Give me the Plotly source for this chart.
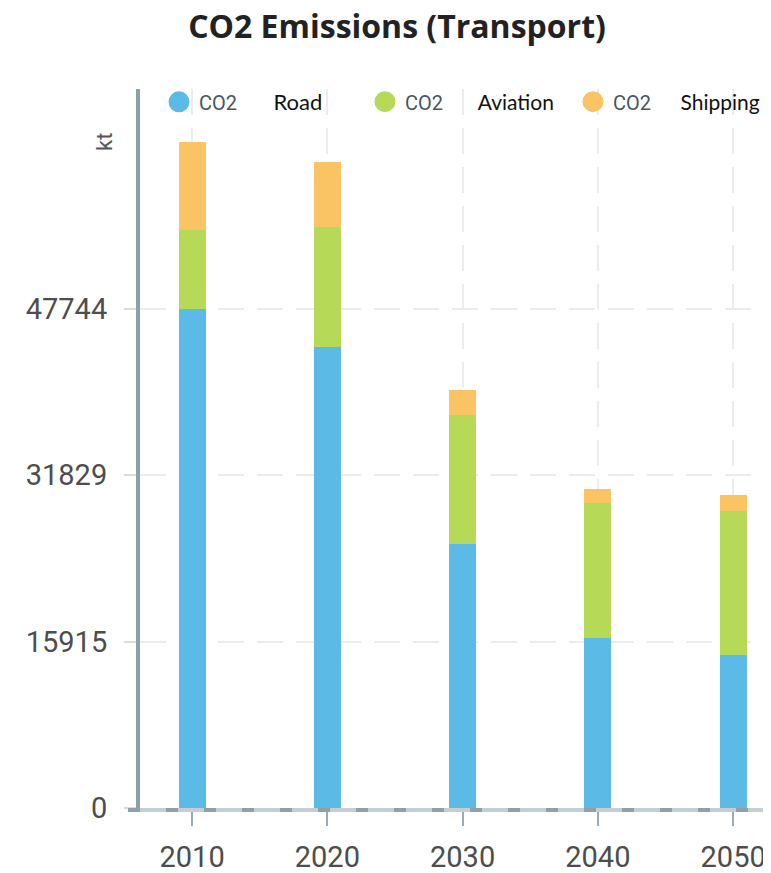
import plotly.graph_objects as go

# ---- data ----
years = ["2010", "2020", "2030", "2040", "2050"]
road = [47700, 44040, 25240, 16250, 14620]
aviation = [7550, 11470, 12330, 12860, 13800]
shipping = [8400, 6210, 2390, 1430, 1500]
series_names = ["Road", "Aviation", "Shipping"]
series_colors = ["#5cbae6", "#b6d957", "#fac364"]
y_tick_vals = [0, 15915, 31829, 47744]
y_tick_text = ["0", "15915", "31829", "47744"]
y_unit = "kt"
chart_title = "CO2 Emissions (Transport)"

# page body has an 8px margin: figure sized so it fills the window from (8,8)
W, H = 763, 865
L, T, B = 132, 81, 65
PW, PH = W - L, H - T - B   # 631 x 719

legend_ids = ["legend", "legend2", "legend3"]
legend_x_px = [19, 225, 433]          # left edge of each legend entry, px from plot left
legend_gap_px = [21, 20, 17]          # font size of the 7-space spacer after "CO2"

fig = go.Figure()
for name, vals, col in zip(series_names, [road, aviation, shipping], series_colors):
    fig.add_trace(go.Bar(
        x=years, y=vals, name=name, width=0.2,
        marker=dict(color=col, line=dict(width=0)),
        showlegend=False,
    ))
for name, col, lid, gap in zip(series_names, series_colors, legend_ids, legend_gap_px):
    fig.add_trace(go.Scatter(
        x=[None], y=[None], mode="markers",
        marker=dict(color=col, size=26, symbol="circle", line=dict(color=col, width=5)),
        name=("<span style='font-family:Roboto;font-size:20px;color:#4a5560'>CO2</span>"
              f"<span style='font-family:Roboto;font-size:{gap}px'>" + " " * 7 + "</span>" + name),
        showlegend=True, legend=lid,
    ))

legend_style = dict(orientation="h", xanchor="left", y=(808 - 102) / PH, yanchor="middle",
                    bgcolor="rgba(0,0,0,0)", itemclick=False,
                    font=dict(family="Lato", size=21, color="#111"))
legend_layout = {lid: dict(legend_style, x=xp / PW) for lid, xp in zip(legend_ids, legend_x_px)}
legend_layout["legend"]["font"] = dict(family="Lato", size=22, color="#111")

grid_col = "#e9edf0"
fig.update_layout(
    width=W, height=H,
    barmode="stack",
    plot_bgcolor="white", paper_bgcolor="white",
    margin=dict(l=L, r=0, t=T, b=B),
    title=dict(text="<b>" + chart_title + "</b>", x=(397 - 8) / W, xref="container",
               xanchor="center", y=1 - (27 - 8) / H, yref="container", yanchor="middle",
               font=dict(family="Open Sans", size=32, color="#222")),
    xaxis=dict(type="category", range=[-0.385, 4.28], automargin=False,
               showgrid=True, gridcolor=grid_col, gridwidth=2, griddash="26px,13px",
               showline=True, linecolor="#c4ced3", linewidth=4,
               ticks="outside", ticklen=14, tickwidth=2, tickcolor="#9aabb4",
               ticklabelstandoff=6,
               tickfont=dict(family="Roboto", size=29, color="#4d4d4d"),
               zeroline=False),
    yaxis=dict(range=[0, 68730], tickvals=y_tick_vals, ticktext=y_tick_text,
               automargin=False,
               showgrid=True, gridcolor=grid_col, gridwidth=2, griddash="26px,13px",
               showline=True, linecolor="#8d9fa9", linewidth=4,
               ticks="outside", ticklen=12, tickwidth=2, tickcolor="#d5dce0",
               ticklabelstandoff=11,
               tickfont=dict(family="Roboto", size=29, color="#4d4d4d"),
               zeroline=False),
    shapes=[dict(type="line", xref="paper", yref="paper", x0=-12 / PW, x1=1,
                 y0=-2 / PH, y1=-2 / PH,
                 line=dict(color="#8fa0aa", width=4, dash="12px,26px"))],
    annotations=[dict(text=y_unit, xref="paper", yref="paper", x=-35 / PW,
                      y=(808 - 142) / PH, textangle=-90, showarrow=False,
                      xanchor="center", yanchor="middle",
                      font=dict(family="Roboto", size=22, color="#555"))],
    **legend_layout,
)

fig.write_html("out.html")
